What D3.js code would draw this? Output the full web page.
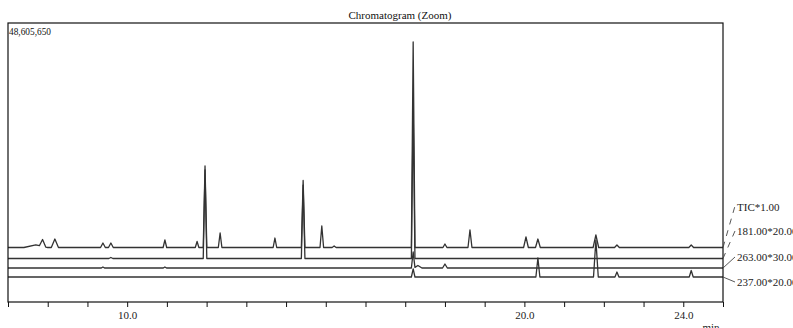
<!DOCTYPE html>
<html>
<head>
<meta charset="utf-8">
<script src="https://cdn.jsdelivr.net/npm/d3@7"></script>
<style>
  body { margin: 0; background: #fff; }
  svg { display: block; font-family: "Liberation Serif", "DejaVu Serif", serif; }
</style>
</head>
<body>
<div id="graphic"></div>
<script>
// retention time range (min) and full scale intensity
const timeRange = [7.0, 25.0];
const fullScale = 48605650;
const tickTimes = d3.range(7, 26, 1);
const labelledTicks = [10, 20, 24];

// trace names + multipliers
const traceNames = ['TIC', '181.00', '263.00', '237.00'];
const traceMultipliers = [1, 20, 30, 20];

// peaks per trace: [retention time, raw intensity, half width (min)]
const ticPeaks = [
  [7.70, 450000, 0.3], [7.87, 1200000, 0.08], [8.18, 1480000, 0.09], [9.39, 780000, 0.06], [9.59, 780000, 0.06],
  [10.95, 1310000, 0.045], [11.76, 1050000, 0.045], [11.96, 14200000, 0.045], [12.34, 2530000, 0.045],
  [13.72, 1650000, 0.045], [14.43, 11670000, 0.045], [14.90, 3750000, 0.045], [15.21, 260000, 0.05],
  [17.20, 35800000, 0.045], [18.00, 610000, 0.05], [18.63, 3050000, 0.05], [20.04, 1830000, 0.06],
  [20.34, 1480000, 0.06], [21.80, 2180000, 0.07], [22.33, 440000, 0.06], [24.20, 440000, 0.06]
];
const mz181Peaks = [
  [9.59, 9000, 0.05], [11.96, 771000, 0.045], [14.43, 640000, 0.045], [17.20, 1307000, 0.045]
];
const mz263Peaks = [
  [9.39, 5800, 0.04], [10.95, 5800, 0.04], [17.20, 93000, 0.045], [17.32, 14500, 0.1], [18.00, 23000, 0.06]
];
const mz237Peaks = [
  [17.20, 70000, 0.045], [20.34, 165500, 0.05], [21.80, 322000, 0.06], [22.33, 43500, 0.05], [24.20, 56600, 0.05]
];
const tracePeaks = [ticPeaks, mz181Peaks, mz263Peaks, mz237Peaks];

// layout
const width = 793, height = 328;
const frame = { left: 8, top: 23, right: 723, bottom: 302 };
const baselines = [247.5, 258.5, 268, 277];
const labelY = [211, 235, 261, 286];

const svg = d3.select('#graphic').append('svg')
  .attr('width', width)
  .attr('height', height);

const x = d3.scaleLinear().domain(timeRange).range([frame.left, frame.right]);

// build a piecewise line from the peak list (sum of triangular peaks)
function tracePoints(peaks, mult) {
  let times = [timeRange[0], timeRange[1]];
  peaks.forEach(p => { times.push(p[0] - p[2], p[0], p[0] + p[2]); });
  times = Array.from(new Set(times)).sort((a, b) => a - b);
  return times.map(t => {
    let v = 0;
    peaks.forEach(p => {
      const d = Math.abs(t - p[0]);
      if (d < p[2]) v += p[1] * (1 - d / p[2]);
    });
    return [t, v * mult];
  });
}

const plot = svg.append('g');

traceNames.forEach((name, i) => {
  const y = d3.scaleLinear()
    .domain([0, fullScale])
    .range([baselines[i], baselines[i] - (frame.bottom - frame.top)]);
  const line = d3.line()
    .x(d => x(d[0]))
    .y(d => y(d[1]));
  plot.append('path')
    .datum(tracePoints(tracePeaks[i], traceMultipliers[i]))
    .attr('d', line)
    .attr('fill', 'none')
    .attr('stroke', '#333')
    .attr('stroke-width', 1.3)
    .attr('stroke-linejoin', 'round');
});

// frame
svg.append('rect')
  .attr('x', frame.left)
  .attr('y', frame.top)
  .attr('width', frame.right - frame.left)
  .attr('height', frame.bottom - frame.top)
  .attr('fill', 'none')
  .attr('stroke', '#111')
  .attr('stroke-width', 1.2);

// x axis
const xAxis = d3.axisBottom(x)
  .tickValues(tickTimes)
  .tickSize(5)
  .tickSizeOuter(0)
  .tickPadding(4)
  .tickFormat(d => labelledTicks.includes(d) ? d3.format('.1f')(d) : '');

const axisG = svg.append('g')
  .attr('transform', 'translate(0,' + frame.bottom + ')')
  .call(xAxis);
axisG.select('.domain').remove();
axisG.selectAll('line').attr('stroke', '#111');
axisG.selectAll('text')
  .attr('font-family', '"Liberation Serif", serif')
  .attr('font-size', 11)
  .attr('fill', '#222');

svg.append('text')
  .attr('x', 711)
  .attr('y', 331)
  .attr('text-anchor', 'middle')
  .attr('font-size', 11)
  .attr('fill', '#222')
  .text('min');

// title + full scale
svg.append('text')
  .attr('x', 400)
  .attr('y', 19)
  .attr('text-anchor', 'middle')
  .attr('font-size', 11)
  .attr('fill', '#111')
  .text('Chromatogram (Zoom)');

svg.append('text')
  .attr('x', 9)
  .attr('y', 35)
  .attr('font-size', 11)
  .attr('textLength', 42)
  .attr('lengthAdjust', 'spacingAndGlyphs')
  .attr('fill', '#111')
  .text(d3.format(',')(fullScale));

// trace labels with connectors
const connectorEnds = [[735, 206], [735, 231], [735, 257], [735, 282]];
traceNames.forEach((name, i) => {
  svg.append('line')
    .attr('x1', frame.right)
    .attr('y1', baselines[i])
    .attr('x2', connectorEnds[i][0])
    .attr('y2', connectorEnds[i][1])
    .attr('stroke', '#444')
    .attr('stroke-width', 0.9)
    .attr('stroke-dasharray', i < 2 ? '6,6' : null);
  svg.append('text')
    .attr('x', 737)
    .attr('y', labelY[i])
    .attr('font-size', 11)
    .attr('fill', '#222')
    .text(name + '*' + d3.format('.2f')(traceMultipliers[i]));
});
</script>
</body>
</html>
